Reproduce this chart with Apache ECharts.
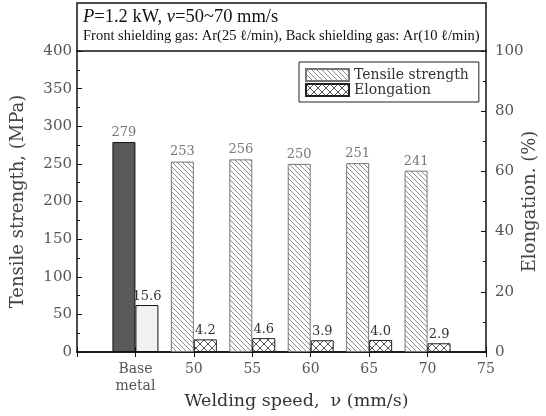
<!DOCTYPE html>
<html>
<head>
<meta charset="utf-8">
<script src="https://cdn.jsdelivr.net/npm/echarts@6/dist/echarts.min.js"></script>
<style>
  html, body { margin: 0; padding: 0; background: #fff; }
  #main { width: 546px; height: 416px; }
</style>
</head>
<body>
<div id="main"></div>
<script>
// categories on the x axis (40 and 75 are empty slots)
let categories = ['', 'Base\nmetal', '50', '55', '60', '65', '70', '75'];
let tensile = [null, 279, 253, 256, 250, 251, 241, null];
let elongation = [null, 15.6, 4.2, 4.6, 3.9, 4.0, 2.9, null];

const serif = '"DejaVu Serif", serif';
const times = '"Liberation Serif", "Times New Roman", serif';

// hatch patterns
function makeHatch() {
    let c = document.createElement('canvas');
    let s = 5;
    c.width = s; c.height = s;
    let ctx = c.getContext('2d');
    ctx.fillStyle = '#fff';
    ctx.fillRect(0, 0, s, s);
    ctx.strokeStyle = '#8a8a8a';
    ctx.lineWidth = 1;
    [-s, 0, s].forEach(k => {
        ctx.beginPath();
        ctx.moveTo(k, 0);
        ctx.lineTo(k + s, s);
        ctx.stroke();
    });
    return c;
}

function makeCross() {
    let c = document.createElement('canvas');
    let s = 8;
    c.width = s; c.height = s;
    let ctx = c.getContext('2d');
    ctx.fillStyle = '#fff';
    ctx.fillRect(0, 0, s, s);
    ctx.strokeStyle = '#555';
    ctx.lineWidth = 1;
    [-s, 0, s].forEach(k => {
        ctx.beginPath();
        ctx.moveTo(k, 0);
        ctx.lineTo(k + s, s);
        ctx.stroke();
        ctx.beginPath();
        ctx.moveTo(k + s, 0);
        ctx.lineTo(k, s);
        ctx.stroke();
    });
    return c;
}

let hatchFill = { image: makeHatch(), repeat: 'repeat' };
let crossFill = { image: makeCross(), repeat: 'repeat' };

let tensileData = tensile.map((v, i) => i === 1
    ? { value: v, itemStyle: { color: '#5a5a5a', borderColor: '#111' } }
    : v);
let elongData = elongation.map((v, i) => i === 1
    ? { value: v, itemStyle: { color: '#f2f2f2', borderColor: '#111' } }
    : v);

const option = {
    animation: false,
    backgroundColor: '#fff',
    grid: { left: 77, right: 60, top: 51, bottom: 64, containLabel: false, outerBoundsMode: 'none' },
    legend: {
        data: ['Tensile strength', 'Elongation'],
        orient: 'vertical',
        left: 299,
        top: 62,
        icon: 'rect',
        itemWidth: 43,
        itemHeight: 12,
        itemGap: 1,
        padding: [6, 10, 5, 6],
        borderColor: '#222',
        borderWidth: 1,
        backgroundColor: '#fff',
        textStyle: { fontFamily: serif, fontSize: 14, color: '#333' }
    },
    xAxis: [{
        type: 'category',
        data: categories,
        boundaryGap: false,
        axisLine: { lineStyle: { color: '#111', width: 1.5 } },
        axisTick: { inside: true, length: 5, lineStyle: { color: '#111' } },
        axisLabel: { fontFamily: serif, fontSize: 14, color: '#555', margin: 9, lineHeight: 17, interval: 0 },
        name: 'Welding speed,  ν (mm/s)',
        nameLocation: 'middle',
        nameMoveOverlap: false,
        nameGap: 40,
        nameTextStyle: { fontFamily: serif, fontSize: 17.5, color: '#333', padding: [0, 0, 0, 30] }
    }, {
        type: 'category',
        data: categories,
        position: 'top',
        boundaryGap: false,
        axisLine: { lineStyle: { color: '#111', width: 1.5 } },
        axisTick: { inside: true, length: 5, lineStyle: { color: '#111' } },
        axisLabel: { show: false }
    }],
    yAxis: [{
        type: 'value',
        min: 0, max: 400, interval: 50,
        splitLine: { show: false },
        axisLine: { show: true, lineStyle: { color: '#111', width: 1.5 } },
        axisTick: { show: true, inside: true, length: 5, lineStyle: { color: '#111' } },
        minorTick: { show: true, splitNumber: 2, length: 3, lineStyle: { color: '#111' } },
        axisLabel: { fontFamily: serif, fontSize: 15, color: '#555', margin: 5 },
        name: 'Tensile strength, (MPa)',
        nameLocation: 'middle',
        nameMoveOverlap: false,
        nameRotate: 90,
        nameGap: 50,
        nameTextStyle: { fontFamily: serif, fontSize: 18, color: '#444' }
    }, {
        type: 'value',
        position: 'right',
        min: 0, max: 100, interval: 20,
        splitLine: { show: false },
        axisLine: { show: true, lineStyle: { color: '#111', width: 1.5 } },
        axisTick: { show: true, inside: true, length: 5, lineStyle: { color: '#111' } },
        minorTick: { show: true, splitNumber: 2, length: 3, lineStyle: { color: '#111' } },
        axisLabel: { fontFamily: serif, fontSize: 15, color: '#555', margin: 9 },
        name: 'Elongation. (%)',
        nameLocation: 'middle',
        nameMoveOverlap: false,
        nameRotate: 90,
        nameGap: 35,
        nameTextStyle: { fontFamily: serif, fontSize: 18, color: '#444' }
    }],
    series: [{
        name: 'Tensile strength',
        type: 'bar',
        yAxisIndex: 0,
        barWidth: 23,
        barGap: '0%',
        data: tensileData,
        itemStyle: { color: hatchFill, borderColor: '#777', borderWidth: 1 },
        label: { show: true, position: 'top', distance: 3, fontFamily: serif, fontSize: 13, color: '#777' }
    }, {
        name: 'Elongation',
        type: 'bar',
        yAxisIndex: 1,
        barWidth: 23,
        barGap: '0%',
        data: elongData,
        itemStyle: { color: crossFill, borderColor: '#222', borderWidth: 1 },
        label: {
            show: true, position: 'top', distance: 2, fontFamily: serif, fontSize: 13, color: '#333',
            formatter: p => p.value.toFixed(1)
        }
    }],
    graphic: [{
        type: 'rect',
        shape: { x: 77, y: 3, width: 409, height: 48 },
        style: { fill: 'none', stroke: '#111', lineWidth: 1.5 },
        silent: true
    }, {
        type: 'text',
        left: 83,
        top: 8,
        style: {
            text: '{i|P}{n|=1.2 kW, }{i|v}{n|=50~70 mm/s}',
            rich: {
                i: { fontFamily: times, fontSize: 18.5, fontStyle: 'italic', fill: '#111' },
                n: { fontFamily: times, fontSize: 18.5, fill: '#111' }
            }
        }
    }, {
        type: 'text',
        left: 83,
        top: 29,
        style: {
            text: 'Front shielding gas: Ar(25 ℓ/min), Back shielding gas: Ar(10 ℓ/min)',
            fontFamily: times,
            fontSize: 14.5,
            fill: '#111'
        }
    }]
};

let plot = echarts.init(document.querySelector('#main'));
plot.setOption(option);
</script>
</body>
</html>
